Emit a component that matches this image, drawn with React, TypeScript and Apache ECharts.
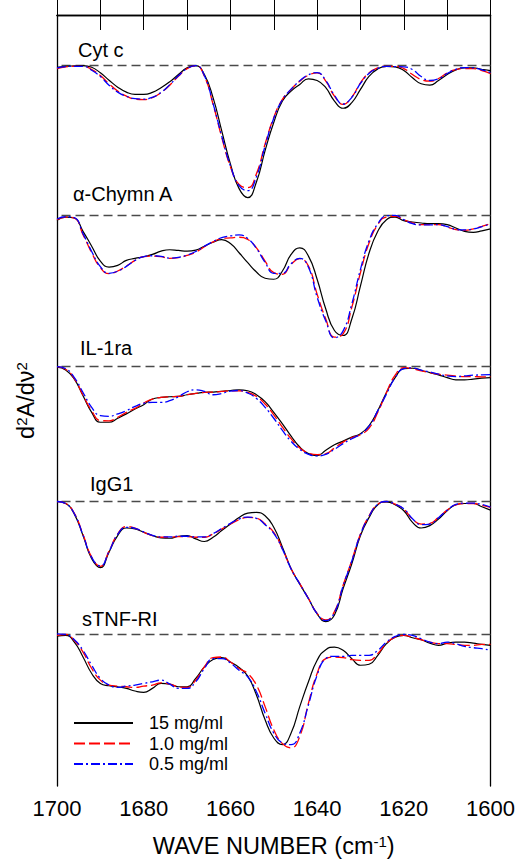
import React, { useEffect, useRef } from "react";
import * as echarts from "echarts";

// Wavenumber grid (cm-1), left to right on the plot
const WAVENUMBERS = [
  1700, 1698, 1696, 1694, 1692, 1690, 1688, 1686, 1684, 1682, 1680, 1678, 1676,
  1674, 1672, 1670, 1668, 1666, 1664, 1662, 1660, 1658, 1656, 1654, 1652, 1650,
  1648, 1646, 1644, 1642, 1640, 1638, 1636, 1634, 1632, 1630, 1628, 1626, 1624,
  1622, 1620, 1618, 1616, 1614, 1612, 1610, 1608, 1606, 1604, 1602, 1600,
];

const X_TICK_LABELS = [1700, 1680, 1660, 1640, 1620, 1600];
const CONCENTRATIONS = ["15 mg/ml", "1.0 mg/ml", "0.5 mg/ml"];
const PROTEINS = ["Cyt c", "α-Chymn A", "IL-1ra", "IgG1", "sTNF-RI"];
// Vertical offset of each stacked spectrum (its zero line)
const BASELINES = [-5.1, -20.23, -35.37, -49.03, -62.43];

// Second-derivative spectra (arbitrary units, relative to each zero line)
const CYTC_15 = [
  -0.17, -0.07, -0.03, 0, -0.17, -0.73, -1.47, -2.17, -2.67, -2.9, -2.9, -2.7, -2.23, -1.63, -0.9, -0.23,
  0, -0.9, -3.23, -6.57, -9.9, -12.4, -13.3, -11.73, -8.57, -5.73, -3.57, -2.57, -1.9, -1.33, -1.5,
  -2.23, -3.57, -4.3, -3.73, -2.4, -1.07, -0.33, -0.07, -0.13, -0.5, -1.23, -1.83, -1.97, -1.5, -0.9,
  -0.43, -0.23, -0.23, -0.37, -0.5,
];
const CYTC_10 = [
  -0.3, -0.13, -0.07, -0.07, -0.4, -1.0, -1.83, -2.57, -3.07, -3.37, -3.43, -3.23, -2.73, -1.97, -1.07, -0.3,
  0, -1.07, -3.9, -7.23, -10.2, -11.97, -12.3, -10.9, -7.9, -5.23, -3.4, -2.4, -1.57, -0.97, -0.73,
  -1.57, -3.07, -3.9, -3.17, -1.73, -0.73, -0.23, -0.07, -0.07, -0.3, -0.9, -1.4, -1.57, -1.3, -0.73,
  -0.4, -0.3, -0.3, -0.5, -0.8,
];
const CYTC_05 = [
  -0.23, -0.1, -0.07, -0.07, -0.47, -1.1, -1.97, -2.67, -3.1, -3.33, -3.37, -3.2, -2.7, -1.93, -1.03, -0.3,
  0, -1.03, -3.83, -7.1, -10.1, -12.1, -12.6, -11.2, -8.1, -5.3, -3.43, -2.37, -1.53, -0.93, -0.7,
  -1.5, -3.0, -3.87, -3.2, -1.8, -0.77, -0.27, -0.07, -0.1, -0.13, -0.4, -1.1, -1.5, -1.33, -0.8,
  -0.37, -0.2, -0.23, -0.43, -0.7,
];

const CHYM_15 = [
  -0.47, -0.13, -0.23, -1.57, -3.07, -4.57, -5.17, -5.0, -4.5, -4.3, -4.13, -3.9, -3.57, -3.43, -3.5, -3.57,
  -3.47, -3.07, -2.67, -2.4, -2.8, -3.73, -4.73, -5.67, -6.3, -6.4, -5.57, -3.9, -3.23, -4.07, -6.4,
  -9.4, -11.57, -12.07, -10.4, -7.07, -3.73, -1.57, -0.4, -0.13, -0.5, -0.63, -0.73, -0.8, -0.8, -0.9,
  -1.23, -1.57, -1.67, -1.53, -1.33,
];
const CHYM_10 = [
  -0.4, -0.13, -0.23, -1.9, -3.73, -5.23, -5.83, -5.57, -5.07, -4.5, -4.13, -4.07, -4.13, -4.3, -4.23, -4.0,
  -3.67, -3.13, -2.63, -2.3, -2.23, -2.17, -2.4, -3.23, -4.57, -5.73, -5.9, -4.9, -4.33, -5.07, -7.9,
  -10.4, -12.23, -11.9, -9.23, -5.73, -2.73, -0.9, -0.13, -0.07, -0.4, -0.73, -0.9, -0.9, -0.9, -1.13,
  -1.4, -1.47, -1.33, -1.07, -0.8,
];
const CHYM_05 = [
  -0.33, -0.1, -0.2, -1.8, -3.6, -5.13, -5.8, -5.6, -5.1, -4.5, -4.13, -4.03, -4.1, -4.27, -4.2, -3.97,
  -3.6, -3.07, -2.6, -2.2, -2.03, -1.93, -2.3, -3.3, -4.7, -5.8, -5.8, -4.83, -4.3, -5.2, -8.2,
  -10.6, -12.3, -11.6, -8.9, -5.4, -2.5, -0.8, 0, 0.03, -0.4, -0.8, -0.93, -0.93, -0.9, -1.1,
  -1.37, -1.43, -1.33, -1.1, -0.83,
];

const IL1RA_15 = [
  -0.13, -0.4, -1.33, -3.0, -4.67, -5.67, -5.67, -5.27, -4.83, -4.33, -3.9, -3.33, -3.17, -3.1, -3.07, -2.9,
  -2.77, -2.67, -2.63, -2.57, -2.47, -2.4, -2.5, -2.9, -3.6, -4.67, -5.83, -7.07, -8.17, -8.83, -9.03,
  -8.5, -7.93, -7.57, -7.17, -6.83, -6.0, -4.5, -2.67, -1.17, -0.27, -0.23, -0.43, -0.67, -0.9, -1.17,
  -1.4, -1.4, -1.33, -1.23, -1.17,
];
const IL1RA_10 = [
  -0.07, -0.33, -1.27, -2.93, -4.5, -5.5, -5.53, -5.17, -4.67, -4.27, -3.73, -3.33, -3.17, -3.1, -3.07, -2.9,
  -2.77, -2.67, -2.63, -2.57, -2.5, -2.5, -2.67, -3.07, -3.83, -4.93, -6.17, -7.33, -8.27, -8.77, -8.93,
  -8.83, -8.27, -7.67, -7.23, -6.93, -6.27, -4.67, -2.67, -0.93, -0.17, -0.27, -0.5, -0.67, -0.83, -0.93,
  -1.0, -1.07, -1.07, -1.1, -1.1,
];
const IL1RA_05 = [
  -0.07, -0.27, -1.17, -2.67, -4.17, -5.0, -5.07, -4.83, -4.5, -4.07, -3.77, -3.67, -3.67, -3.5, -3.1, -2.6,
  -2.4, -2.57, -2.9, -2.77, -2.53, -2.47, -2.73, -3.27, -4.17, -5.27, -6.5, -7.6, -8.4, -8.9, -9.07,
  -8.9, -8.4, -7.83, -7.33, -6.87, -6.07, -4.5, -2.83, -1.17, -0.27, -0.2, -0.43, -0.6, -0.83, -1.0,
  -1.07, -1.0, -0.93, -0.9, -0.87,
];

const IGG1_15 = [
  0, -0.2, -1.27, -3.43, -5.77, -6.67, -5.1, -3.43, -2.67, -2.77, -3.1, -3.43, -3.67, -3.7, -3.5, -3.43,
  -3.77, -4.03, -3.6, -2.93, -2.27, -1.6, -1.17, -1.1, -1.43, -2.6, -4.6, -6.77, -8.33, -9.77, -11.33,
  -12.1, -11.43, -8.77, -6.27, -3.43, -1.6, -0.33, -0.03, -0.33, -0.93, -2.1, -2.67, -2.43, -1.77, -0.93,
  -0.33, -0.2, -0.2, -0.53, -0.87,
];
const IGG1_10 = [
  0, -0.2, -1.2, -3.33, -5.6, -6.53, -5.0, -3.27, -2.53, -2.67, -3.1, -3.43, -3.6, -3.6, -3.53, -3.53,
  -3.6, -3.6, -3.27, -2.77, -2.27, -1.83, -1.6, -1.67, -2.27, -3.1, -4.77, -6.77, -8.27, -9.77, -11.27,
  -11.93, -11.1, -8.43, -5.93, -3.27, -1.43, -0.27, 0, -0.27, -0.77, -1.77, -2.27, -2.2, -1.6, -0.87,
  -0.33, -0.2, -0.2, -0.37, -0.6,
];
const IGG1_05 = [
  0, -0.2, -1.23, -3.37, -5.63, -6.5, -5.03, -3.3, -2.6, -2.7, -3.07, -3.4, -3.57, -3.57, -3.5, -3.5,
  -3.57, -3.57, -3.23, -2.73, -2.2, -1.77, -1.57, -1.7, -2.33, -3.2, -4.8, -6.8, -8.3, -9.8, -11.3,
  -12.0, -11.2, -8.5, -6.0, -3.3, -1.47, -0.27, 0, -0.27, -0.73, -1.73, -2.33, -2.27, -1.63, -0.87,
  -0.3, -0.17, -0.17, -0.3, -0.57,
];

const STNF_15 = [
  -0.17, -0.1, -0.77, -2.27, -3.93, -4.93, -5.17, -5.27, -5.43, -5.7, -5.83, -5.43, -4.93, -5.0, -5.27, -5.27,
  -4.43, -3.27, -2.53, -2.33, -2.77, -3.33, -4.2, -6.1, -8.6, -10.43, -11.1, -9.93, -7.27, -4.77, -2.6,
  -1.53, -1.27, -1.6, -2.43, -3.1, -3.0, -2.1, -0.93, -0.27, -0.1, -0.33, -0.53, -0.87, -1.1, -0.87,
  -0.77, -0.77, -0.87, -1.0, -1.1,
];
const STNF_10 = [
  -0.1, 0, -0.6, -1.77, -3.43, -4.6, -5.1, -5.2, -5.27, -5.33, -5.2, -5.1, -4.87, -5.0, -5.27, -5.33,
  -4.6, -3.27, -2.33, -2.27, -2.77, -3.43, -3.93, -5.1, -7.27, -9.6, -11.0, -11.43, -10.27, -6.93, -3.93,
  -2.43, -2.27, -2.33, -2.53, -2.6, -2.6, -1.93, -0.87, -0.27, -0.1, -0.27, -0.53, -0.77, -0.93, -0.93,
  -1.0, -1.1, -1.1, -1.0, -1.0,
];
const STNF_05 = [
  0.07, 0, -0.53, -1.6, -3.1, -4.43, -5.1, -5.33, -5.2, -5.1, -4.93, -4.77, -4.6, -5.0, -5.43, -5.43,
  -4.77, -3.43, -2.43, -2.43, -2.87, -3.6, -4.27, -5.77, -7.93, -9.93, -10.93, -11.1, -9.93, -7.1, -4.1,
  -2.43, -2.2, -2.2, -2.1, -2.1, -2.1, -1.6, -0.77, -0.2, 0, -0.1, -0.43, -0.77, -0.93, -0.77,
  -0.93, -1.2, -1.33, -1.43, -1.6,
];

const SPECTRA = [
  [CYTC_15, CYTC_10, CYTC_05],
  [CHYM_15, CHYM_10, CHYM_05],
  [IL1RA_15, IL1RA_10, IL1RA_05],
  [IGG1_15, IGG1_10, IGG1_05],
  [STNF_15, STNF_10, STNF_05],
];

const FONT = "'Liberation Sans', Arial, Helvetica, sans-serif";
const LINE_COLORS = ["#000000", "#ff0000", "#0000ff"];
const LINE_TYPES: any[] = ["solid", [11, 4], [9, 3, 2, 3]];
const LINE_WIDTHS = [1.2, 1.3, 1.3];
// Where each protein's name sits (pixels)
const LABEL_POS = [
  [78, 50],
  [73, 194],
  [80, 348],
  [90, 484],
  [82, 619],
];

export default function App() {
  const ref = useRef<HTMLDivElement>(null);

  useEffect(() => {
    if (!ref.current) return;
    const chart = echarts.init(ref.current, undefined, { renderer: "svg" });

    const series: any[] = [];
    SPECTRA.forEach((set, p) => {
      set.forEach((vals, c) => {
        const s: any = {
          type: "line",
          name: CONCENTRATIONS[c],
          data: WAVENUMBERS.map((w, i) => [w, vals[i] + BASELINES[p]]),
          showSymbol: false,
          symbol: "none",
          smooth: true,
          color: LINE_COLORS[c],
          lineStyle: { color: LINE_COLORS[c], width: LINE_WIDTHS[c], type: LINE_TYPES[c] },
          z: 3 + c,
        };
        if (c === 0) {
          s.markLine = {
            silent: true,
            symbol: "none",
            label: { show: false },
            lineStyle: { color: "#4a4a4a", width: 1.4, type: [9, 5] },
            data: [{ yAxis: BASELINES[p] }],
            z: 2,
          };
        }
        series.push(s);
      });
    });

    const axisText = { fontFamily: FONT, color: "#000" };
    const supRich = {
      sup: { fontFamily: FONT, color: "#000", fontSize: 15, verticalAlign: "top", lineHeight: 14 },
    };

    chart.setOption({
      animation: false,
      backgroundColor: "#ffffff",
      grid: { left: 57, right: 24, top: 15, bottom: 71 },
      legend: {
        data: CONCENTRATIONS,
        orient: "vertical",
        left: 73,
        top: 714,
        padding: 0,
        itemWidth: 59,
        itemHeight: 20,
        itemGap: 2.5,
        itemStyle: { opacity: 0 },
        textStyle: { ...axisText, fontSize: 18, padding: [0, 0, 0, 11] },
      },
      xAxis: [
        {
          type: "value",
          min: 1600,
          max: 1700,
          interval: 10,
          inverse: true,
          position: "bottom",
          axisLine: { show: true, lineStyle: { color: "#000", width: 1.3 } },
          axisTick: { show: true, inside: true, length: 15, lineStyle: { color: "#000", width: 1 } },
          splitLine: { show: false },
          axisLabel: {
            ...axisText,
            fontSize: 22,
            margin: 11,
            showMinLabel: true,
            showMaxLabel: true,
            formatter: (v: number) => (X_TICK_LABELS.includes(v) ? String(v) : ""),
          },
          name: "WAVE NUMBER (cm{sup|-1})",
          nameLocation: "middle",
          nameGap: 48,
          nameTextStyle: { ...axisText, fontSize: 23.5, rich: supRich },
        },
        {
          type: "value",
          min: 1600,
          max: 1700,
          interval: 10,
          inverse: true,
          position: "top",
          axisLine: { show: true, lineStyle: { color: "#000", width: 1.3 } },
          axisTick: { show: true, inside: true, length: 15, lineStyle: { color: "#000", width: 1 } },
          axisLabel: { show: false },
          splitLine: { show: false },
        },
      ],
      yAxis: [
        {
          type: "value",
          min: -77.7,
          max: 0,
          position: "left",
          axisLine: { show: true, lineStyle: { color: "#000", width: 1.3 } },
          axisTick: { show: false },
          axisLabel: { show: false },
          splitLine: { show: false },
          name: "d{sup|2}A/dν{sup|2}",
          nameLocation: "middle",
          nameRotate: 90,
          nameGap: 19,
          nameTextStyle: { ...axisText, fontSize: 23.5, rich: supRich },
        },
        {
          type: "value",
          min: -77.7,
          max: 0,
          position: "right",
          axisLine: { show: true, lineStyle: { color: "#000", width: 1.3 } },
          axisTick: { show: false },
          axisLabel: { show: false },
          splitLine: { show: false },
        },
      ],
      graphic: PROTEINS.map((name, i) => ({
        type: "text",
        x: LABEL_POS[i][0],
        y: LABEL_POS[i][1],
        z: 10,
        style: {
          text: name,
          fontFamily: FONT,
          fontSize: 20,
          fill: "#000",
          verticalAlign: "middle",
        },
      })),
      series,
    });

    return () => chart.dispose();
  }, []);

  return (
    <div
      ref={ref}
      style={{ position: "absolute", left: 0, top: 0, width: 518, height: 863 }}
    />
  );
}
